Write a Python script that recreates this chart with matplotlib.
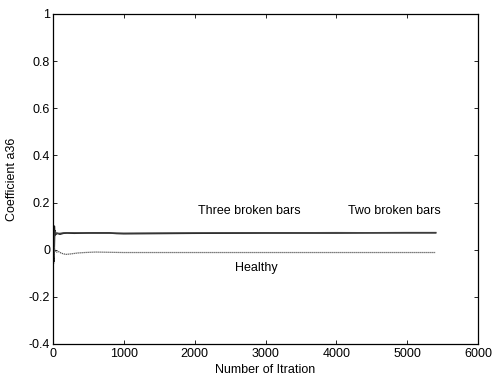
import matplotlib
matplotlib.use('Agg')
import matplotlib.pyplot as plt
import numpy as np

plt.rcParams['font.family'] = ['Liberation Sans', 'DejaVu Sans']

# estimated coefficient a36 against iteration count
iter_three = [0, 8, 15, 20, 25, 30, 40, 60, 100, 150, 200, 300, 500, 800, 900, 1000, 1500, 2000, 3000, 4000, 5000, 5400]
a36_three = [0.0, 0.09, -0.05, 0.1, 0.06, 0.08, 0.065, 0.07, 0.066, 0.07, 0.071, 0.07, 0.071, 0.071, 0.069, 0.068, 0.069, 0.07, 0.071, 0.071, 0.072, 0.072]

iter_two = [0, 10, 20, 30, 50, 100, 200, 400, 1000, 2000, 3000, 4000, 5000, 5400]
a36_two = [0.0, 0.07, -0.03, 0.08, 0.068, 0.07, 0.072, 0.071, 0.07, 0.071, 0.072, 0.073, 0.072, 0.072]

iter_healthy = [0, 10, 20, 30, 50, 80, 120, 180, 250, 350, 450, 600, 800, 1000, 2000, 3000, 4000, 5000, 5400]
a36_healthy = [0.0, -0.06, 0.01, -0.005, -0.01, -0.008, -0.015, -0.02, -0.018, -0.014, -0.012, -0.01, -0.011, -0.012, -0.012, -0.012, -0.012, -0.012, -0.012]

fig = plt.figure(figsize=(4.94, 3.78), dpi=100)
ax = fig.add_axes([0.107, 0.09, 0.861, 0.873])

ax.plot(iter_three, a36_three, color='#1a1a1a', lw=1.2)
ax.plot(iter_two, a36_two, color='#444444', lw=0.8)
ax.plot(iter_healthy, a36_healthy, color='#555555', lw=0.9, ls=(0, (1, 0.6)))

ax.text(2770, 0.164, 'Three broken bars', ha='center', va='center', fontsize=9)
ax.text(4815, 0.164, 'Two broken bars', ha='center', va='center', fontsize=9)
ax.text(2870, -0.077, 'Healthy', ha='center', va='center', fontsize=9)

ax.set_xlim(0, 6000)
ax.set_ylim(-0.4, 1)
ax.set_xticks(np.arange(0, 6001, 1000))
ax.set_yticks([-0.4, -0.2, 0, 0.2, 0.4, 0.6, 0.8, 1])
ax.set_yticklabels(['-0.4', '-0.2', '0', '0.2', '0.4', '0.6', '0.8', '1'])
ax.tick_params(direction='in', top=True, right=True, labelsize=9, length=3, width=0.6)
ax.tick_params(axis='x', pad=3)
ax.tick_params(axis='y', pad=2)
for s in ax.spines.values():
    s.set_linewidth(0.9)

ax.set_xlabel('Number of Itration', fontsize=9, labelpad=3)
ax.set_ylabel('Coefficient a36', fontsize=9, labelpad=8)

fig.savefig('out.png', dpi=100)
